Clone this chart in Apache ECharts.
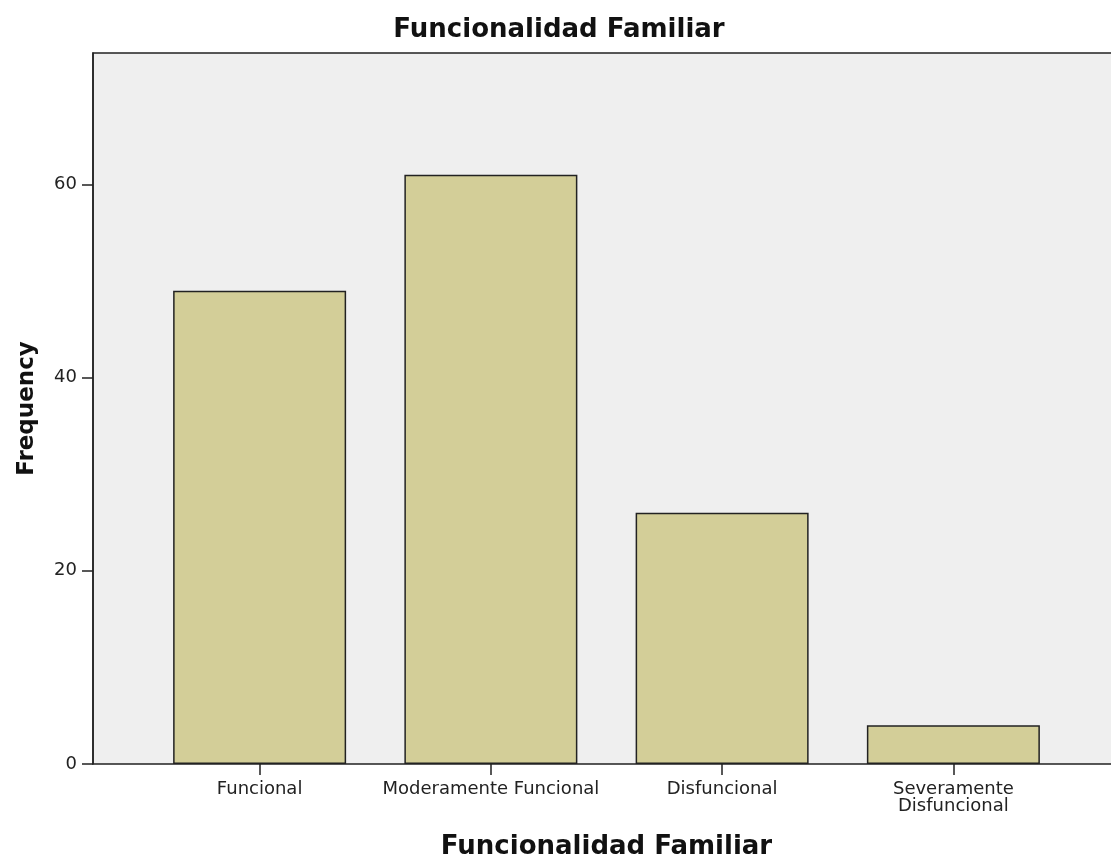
<!DOCTYPE html>
<html>
<head>
<meta charset="utf-8">
<script src="https://cdn.jsdelivr.net/npm/echarts@6/dist/echarts.min.js"></script>
<style>
  html, body { margin: 0; padding: 0; background: #fff; }
  #chart { width: 1111px; height: 858px; }
</style>
</head>
<body>
<div id="chart"></div>
<script>
// categorias y frecuencias
const categorias = ['Funcional', 'Moderamente Funcional', 'Disfuncional', 'Severamente\nDisfuncional'];
const frecuencias = [49, 61, 26, 4];
const yMax = 73.6;
const yInterval = 20;

const font = 'DejaVu Sans';
const chart = echarts.init(document.getElementById('chart'));

chart.setOption({
  animation: false,
  title: {
    text: 'Funcionalidad Familiar',
    left: 554,
    top: 12,
    textAlign: 'center',
    textStyle: { fontFamily: font, fontSize: 26, fontWeight: 'bold', color: '#111' }
  },
  grid: [
    // fondo gris del area de trazado
    { left: 93, right: -5, top: 53, bottom: 94, show: true, outerBoundsMode: 'none',
      backgroundColor: '#efefef', borderColor: '#222', borderWidth: 1.5 },
    // area de las barras
    { left: 144, right: 42, top: 53, bottom: 94, outerBoundsMode: 'none' }
  ],
  xAxis: [
    { type: 'value', gridIndex: 0, show: false, min: 0, max: 1 },
    {
      type: 'category', gridIndex: 1, data: categorias,
      name: 'Funcionalidad Familiar', nameLocation: 'middle', nameGap: 70,
      nameTextStyle: { fontFamily: font, fontSize: 26, fontWeight: 'bold', color: '#111' },
      axisLine: { show: false },
      axisTick: { show: true, alignWithLabel: true, length: 11, lineStyle: { color: '#222', width: 1.5 } },
      axisLabel: { fontFamily: font, fontSize: 18, color: '#222', margin: 17, lineHeight: 17, interval: 0 }
    }
  ],
  yAxis: [
    {
      type: 'value', gridIndex: 0, min: 0, max: yMax, interval: yInterval,
      name: 'Frequency', nameLocation: 'middle', nameGap: 54,
      nameTextStyle: { fontFamily: font, fontSize: 23, fontWeight: 'bold', color: '#111' },
      axisLine: { show: true, lineStyle: { color: '#222', width: 1.5 } },
      axisTick: { show: true, length: 11, lineStyle: { color: '#222', width: 1.5 } },
      axisLabel: { fontFamily: font, fontSize: 18, color: '#222', margin: 16,
        showMaxLabel: false },
      splitLine: { show: false }
    },
    { type: 'value', gridIndex: 1, min: 0, max: yMax, show: false }
  ],
  series: [{
    type: 'bar',
    xAxisIndex: 1,
    yAxisIndex: 1,
    data: frecuencias,
    barWidth: 173,
    itemStyle: { color: '#d3ce98', borderColor: '#222', borderWidth: 1.5 }
  }]
});
</script>
</body>
</html>
